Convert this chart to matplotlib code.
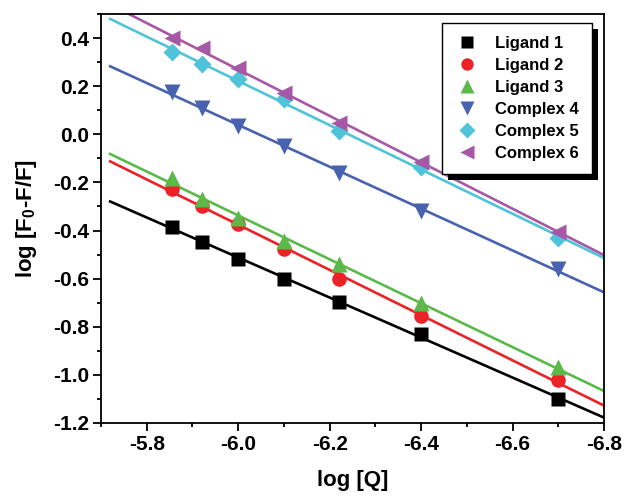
import numpy as np
import matplotlib
matplotlib.use('Agg')
import matplotlib.pyplot as plt
from matplotlib.patches import Rectangle
from matplotlib.ticker import MultipleLocator

plt.rcParams['font.family'] = ['Liberation Sans', 'DejaVu Sans']
plt.rcParams['font.weight'] = 'bold'
plt.rcParams['axes.unicode_minus'] = False
plt.rcParams['mathtext.fontset'] = 'custom'
plt.rcParams['mathtext.rm'] = 'Liberation Sans:bold'
plt.rcParams['mathtext.default'] = 'rm'

# data
log_q = [-5.855, -5.92, -6.0, -6.1, -6.22, -6.4, -6.7]

ligand1 = [-0.384, -0.449, -0.518, -0.601, -0.696, -0.831, -1.100]
ligand2 = [-0.228, -0.298, -0.372, -0.476, -0.602, -0.755, -1.022]
ligand3 = [-0.180, -0.268, -0.350, -0.442, -0.540, -0.703, -0.968]
complex4 = [0.175, 0.110, 0.035, -0.048, -0.160, -0.318, -0.560]
complex5 = [0.340, 0.293, 0.228, 0.146, 0.015, -0.137, -0.432]
complex6 = [0.400, 0.357, 0.274, 0.173, 0.048, -0.114, -0.405]

series = [ligand1, ligand2, ligand3, complex4, complex5, complex6]
labels = ['Ligand 1', 'Ligand 2', 'Ligand 3', 'Complex 4', 'Complex 5', 'Complex 6']
colors = ['#000000', '#ec2227', '#5ab948', '#4862b0', '#4ec3da', '#a658a6']
markers = ['s', 'o', '^', 'v', 'D', '<']
msizes = [9.5, 10.5, 11.5, 11.5, 9, 11.5]

fig = plt.figure(figsize=(6.25, 5), dpi=100)
ax = fig.add_axes([101 / 625, 77 / 500, 503 / 625, 409 / 500])

x_fit = np.array([-5.72, -6.8])
for ys, lab, c, m, ms in zip(series, labels, colors, markers, msizes):
	k, b = np.polyfit(log_q, ys, 1)
	ax.plot(x_fit, k * x_fit + b, c=c, lw=1.9, zorder=2)
	ax.plot(log_q, ys, ls='none', marker=m, ms=ms, c=c, mec='none', label=lab, zorder=3)

ax.set_xlim(-5.7, -6.8)
ax.set_ylim(-1.2, 0.5)
ax.xaxis.set_major_locator(MultipleLocator(0.2))
ax.xaxis.set_minor_locator(MultipleLocator(0.1))
ax.yaxis.set_major_locator(MultipleLocator(0.2))
ax.yaxis.set_minor_locator(MultipleLocator(0.1))
ax.tick_params(which='both', direction='out', width=1.3, labelsize=15, pad=3)
ax.tick_params(which='major', length=5.5)
ax.tick_params(which='minor', length=3.2)
for sp in ax.spines.values():
	sp.set_linewidth(1.3)

ax.set_xlabel('log [Q]', fontsize=16, fontweight='bold', labelpad=12)
ax.set_ylabel('log [F$_0$-F/F]', fontsize=16, fontweight='bold', labelpad=10)

leg = ax.legend(loc='upper right', bbox_to_anchor=(0.976, 0.979), borderaxespad=0,
	prop={'weight': 'bold', 'size': 12}, frameon=True, fancybox=False,
	edgecolor='black', framealpha=1, labelspacing=0.42, handletextpad=0.9,
	borderpad=0.8, handlelength=1.5, markerscale=0.85)
leg.get_frame().set_linewidth(1.0)
leg.set_zorder(10)

# black drop shadow behind the legend box
fig.canvas.draw()
bb = leg.get_window_extent().transformed(fig.transFigure.inverted())
off_x, off_y = 6 / 625, 6 / 500
shadow = Rectangle((bb.x0 + off_x, bb.y0 - off_y), bb.width, bb.height,
	transform=fig.transFigure, facecolor='black', edgecolor='none', zorder=9)
ax.add_patch(shadow)
shadow.set_clip_on(False)

plt.savefig('out.png', dpi=100)
